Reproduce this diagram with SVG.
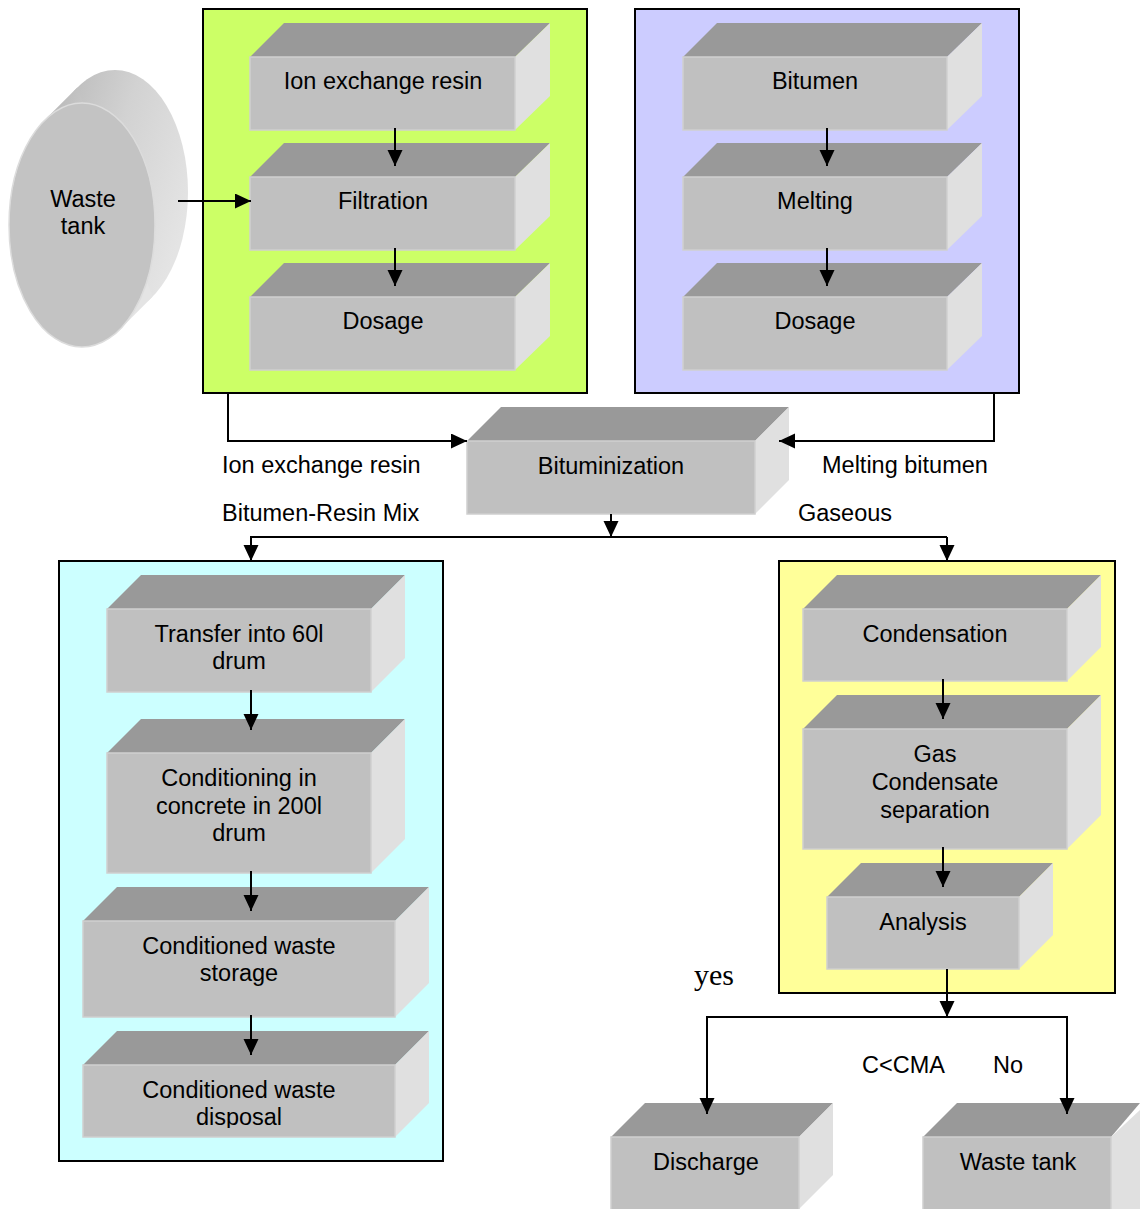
<svg xmlns="http://www.w3.org/2000/svg" width="1140" height="1209" viewBox="0 0 1140 1209">
<defs>
<style>
.top{fill:#999999}
.front{fill:#c0c0c0;stroke:#cfcfcf;stroke-width:1.5}
.side{fill:#e0e0e0}
.t{font-family:"Liberation Sans",Arial,sans-serif;font-size:23.5px;fill:#000;text-anchor:middle}
.l{font-family:"Liberation Sans",Arial,sans-serif;font-size:23.5px;fill:#000}
.panel{stroke:#000;stroke-width:2}
.c{fill:none;stroke:#000;stroke-width:2}
</style>
<marker id="ah" markerUnits="userSpaceOnUse" markerWidth="17" markerHeight="16" refX="16" refY="7.5" orient="auto">
<path d="M0,0 L16,7.5 L0,15 Z" fill="#000"/>
</marker>
<linearGradient id="cyl" x1="0" y1="0" x2="1" y2="0.6">
<stop offset="0" stop-color="#b4b4b4"/>
<stop offset="0.5" stop-color="#d2d2d2"/>
<stop offset="1" stop-color="#e4e4e4"/>
</linearGradient>
<clipPath id="clipDisp"><rect x="83" y="1065" width="312" height="63"/></clipPath>
</defs>

<!-- panels -->
<rect id="panel-green" class="panel" x="203" y="9" width="384" height="384" fill="#ccff66"/>
<rect id="panel-purple" class="panel" x="635" y="9" width="384" height="384" fill="#ccccff"/>
<rect id="panel-cyan" class="panel" x="59" y="561" width="384" height="600" fill="#ccffff"/>
<rect id="panel-yellow" class="panel" x="779" y="561" width="336" height="432" fill="#ffff99"/>

<!-- waste tank cylinder -->
<g id="waste-tank-cylinder">
<ellipse cx="115" cy="192" rx="73" ry="122" fill="url(#cyl)"/>
<polygon points="44.5,120.3 77.5,87.3 152.5,296.7 119.5,329.7" fill="url(#cyl)"/>
<ellipse cx="82" cy="225" rx="73" ry="122" fill="#c3c3c3" stroke="#dcdcdc" stroke-width="1.5"/>
<text class="t" x="83" y="207">Waste</text>
<text class="t" x="83" y="234">tank</text>
</g>

<!-- boxes -->
<g id="ion-exchange-resin">
<polygon class="top" points="250,57 284,23 550,23 515,57"/>
<polygon class="side" points="515,57 550,23 550,96 515,130"/>
<rect class="front" x="250" y="57" width="265" height="73"/>
<text class="t" x="383" y="89">Ion exchange resin</text>
</g>
<g id="filtration">
<polygon class="top" points="250,177 284,143 550,143 515,177"/>
<polygon class="side" points="515,177 550,143 550,216 515,250"/>
<rect class="front" x="250" y="177" width="265" height="73"/>
<text class="t" x="383" y="209">Filtration</text>
</g>
<g id="dosage-1">
<polygon class="top" points="250,297 284,263 550,263 515,297"/>
<polygon class="side" points="515,297 550,263 550,336 515,370"/>
<rect class="front" x="250" y="297" width="265" height="73"/>
<text class="t" x="383" y="329">Dosage</text>
</g>
<g id="bitumen">
<polygon class="top" points="683,57 717,23 982,23 947,57"/>
<polygon class="side" points="947,57 982,23 982,96 947,130"/>
<rect class="front" x="683" y="57" width="264" height="73"/>
<text class="t" x="815" y="89">Bitumen</text>
</g>
<g id="melting">
<polygon class="top" points="683,177 717,143 982,143 947,177"/>
<polygon class="side" points="947,177 982,143 982,216 947,250"/>
<rect class="front" x="683" y="177" width="264" height="73"/>
<text class="t" x="815" y="209">Melting</text>
</g>
<g id="dosage-2">
<polygon class="top" points="683,297 717,263 982,263 947,297"/>
<polygon class="side" points="947,297 982,263 982,336 947,370"/>
<rect class="front" x="683" y="297" width="264" height="73"/>
<text class="t" x="815" y="329">Dosage</text>
</g>
<g id="bituminization">
<polygon class="top" points="467,441 501,407 789,407 755,441"/>
<polygon class="side" points="755,441 789,407 789,480 755,514"/>
<rect class="front" x="467" y="441" width="288" height="73"/>
<text class="t" x="611" y="474">Bituminization</text>
</g>
<g id="transfer">
<polygon class="top" points="107,609 141,575 405,575 371,609"/>
<polygon class="side" points="371,609 405,575 405,658 371,692"/>
<rect class="front" x="107" y="609" width="264" height="83"/>
<text class="t" x="239" y="642">Transfer into 60l</text>
<text class="t" x="239" y="669">drum</text>
</g>
<g id="conditioning">
<polygon class="top" points="107,753 141,719 405,719 371,753"/>
<polygon class="side" points="371,753 405,719 405,839 371,873"/>
<rect class="front" x="107" y="753" width="264" height="120"/>
<text class="t" x="239" y="786">Conditioning in</text>
<text class="t" x="239" y="814">concrete in 200l</text>
<text class="t" x="239" y="841">drum</text>
</g>
<g id="storage">
<polygon class="top" points="83,921 117,887 429,887 395,921"/>
<polygon class="side" points="395,921 429,887 429,983 395,1017"/>
<rect class="front" x="83" y="921" width="312" height="96"/>
<text class="t" x="239" y="954">Conditioned waste</text>
<text class="t" x="239" y="981">storage</text>
</g>
<g id="disposal">
<polygon class="top" points="83,1065 117,1031 429,1031 395,1065"/>
<polygon class="side" points="395,1065 429,1031 429,1103 395,1137"/>
<rect class="front" x="83" y="1065" width="312" height="72"/>
<g clip-path="url(#clipDisp)">
<text class="t" x="239" y="1098">Conditioned waste</text>
<text class="t" x="239" y="1125">disposal</text>
</g>
</g>
<g id="condensation">
<polygon class="top" points="803,609 837,575 1101,575 1067,609"/>
<polygon class="side" points="1067,609 1101,575 1101,647 1067,681"/>
<rect class="front" x="803" y="609" width="264" height="72"/>
<text class="t" x="935" y="642">Condensation</text>
</g>
<g id="separation">
<polygon class="top" points="803,729 837,695 1101,695 1067,729"/>
<polygon class="side" points="1067,729 1101,695 1101,815 1067,849"/>
<rect class="front" x="803" y="729" width="264" height="120"/>
<text class="t" x="935" y="762">Gas</text>
<text class="t" x="935" y="790">Condensate</text>
<text class="t" x="935" y="818">separation</text>
</g>
<g id="analysis">
<polygon class="top" points="827,897 861,863 1053,863 1019,897"/>
<polygon class="side" points="1019,897 1053,863 1053,935 1019,969"/>
<rect class="front" x="827" y="897" width="192" height="72"/>
<text class="t" x="923" y="930">Analysis</text>
</g>
<g id="discharge">
<polygon class="top" points="611,1137 645,1103 833,1103 799,1137"/>
<polygon class="side" points="799,1137 833,1103 833,1175 799,1209"/>
<rect class="front" x="611" y="1137" width="188" height="74"/>
<text class="t" x="706" y="1170">Discharge</text>
</g>
<g id="waste-tank-box">
<polygon class="top" points="923,1137 957,1103 1140,1103 1111,1137"/>
<polygon class="side" points="1111,1137 1140,1110 1140,1209 1111,1209"/>
<rect class="front" x="923" y="1137" width="188" height="74"/>
<text class="t" x="1018" y="1170">Waste tank</text>
</g>

<!-- connectors -->
<g id="connectors">
<line class="c" x1="178" y1="201" x2="251" y2="201" marker-end="url(#ah)"/>
<line class="c" x1="395" y1="128" x2="395" y2="166" marker-end="url(#ah)"/>
<line class="c" x1="395" y1="248" x2="395" y2="286" marker-end="url(#ah)"/>
<line class="c" x1="827" y1="128" x2="827" y2="166" marker-end="url(#ah)"/>
<line class="c" x1="827" y1="248" x2="827" y2="286" marker-end="url(#ah)"/>
<polyline class="c" points="228,393 228,441 467,441" marker-end="url(#ah)"/>
<polyline class="c" points="994,393 994,441 779,441" marker-end="url(#ah)"/>
<line class="c" x1="611" y1="514" x2="611" y2="537" marker-end="url(#ah)"/>
<line class="c" x1="250" y1="537" x2="947" y2="537"/>
<line class="c" x1="251" y1="537" x2="251" y2="561" marker-end="url(#ah)"/>
<line class="c" x1="947" y1="537" x2="947" y2="561" marker-end="url(#ah)"/>
<line class="c" x1="251" y1="690" x2="251" y2="730" marker-end="url(#ah)"/>
<line class="c" x1="251" y1="871" x2="251" y2="911" marker-end="url(#ah)"/>
<line class="c" x1="251" y1="1015" x2="251" y2="1055" marker-end="url(#ah)"/>
<line class="c" x1="943" y1="679" x2="943" y2="719" marker-end="url(#ah)"/>
<line class="c" x1="943" y1="847" x2="943" y2="887" marker-end="url(#ah)"/>
<line class="c" x1="947" y1="969" x2="947" y2="1017" marker-end="url(#ah)"/>
<polyline class="c" points="707,1100 707,1017 1067,1017 1067,1100"/>
<line class="c" x1="707" y1="1030" x2="707" y2="1114" marker-end="url(#ah)"/>
<line class="c" x1="1067" y1="1030" x2="1067" y2="1114" marker-end="url(#ah)"/>
</g>

<!-- labels -->
<g id="labels">
<text class="l" x="222" y="473">Ion exchange resin</text>
<text class="l" x="822" y="473">Melting bitumen</text>
<text class="l" x="222" y="521">Bitumen-Resin Mix</text>
<text class="l" x="798" y="521">Gaseous</text>
<text x="694" y="985" style="font-family:'Liberation Serif','Times New Roman',serif;font-size:30px">yes</text>
<text class="l" x="862" y="1073">C&lt;CMA</text>
<text class="l" x="993" y="1073">No</text>
</g>
</svg>
